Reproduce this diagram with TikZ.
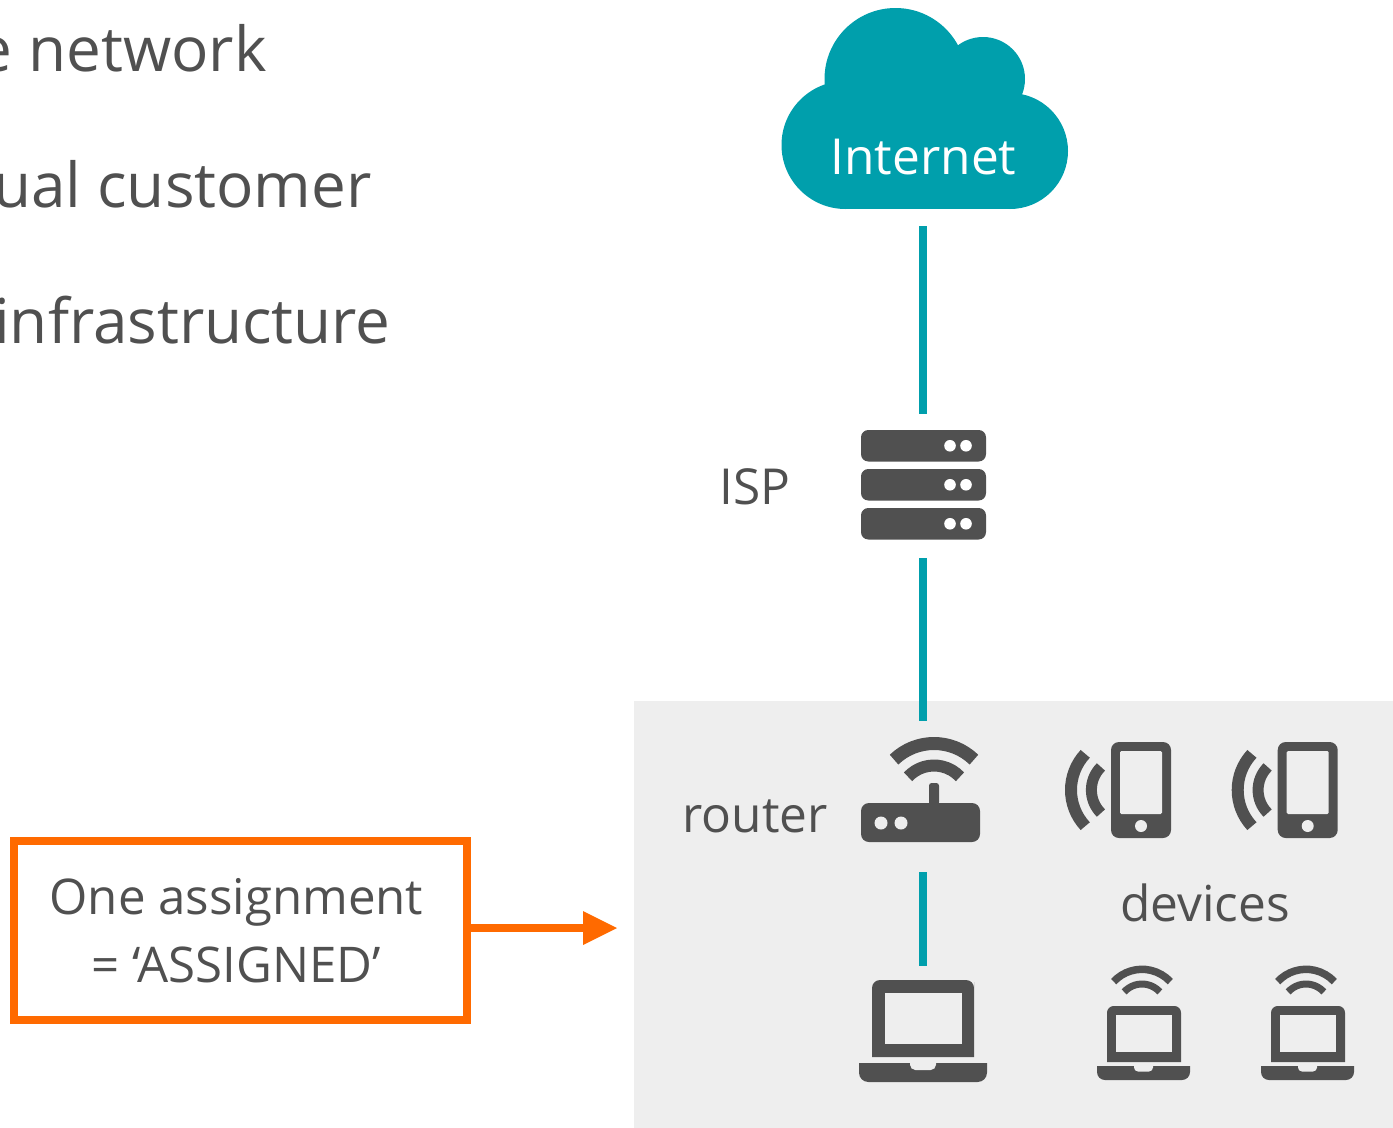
\documentclass[tikz,border=0pt]{standalone}
\usepackage{fontspec}
\setmainfont{Open Sans}[Ligatures=TeX]
\definecolor{teal1}{HTML}{009FAC}
\definecolor{ink}{HTML}{505050}
\definecolor{orange1}{HTML}{FF6A00}
\definecolor{panel}{HTML}{EEEEEE}
\newcommand{\wifiup}[8]{% cx cy r1 w1 r2 w2 ang1 ang2
  \draw[line width=#4*0.75pt,ink] (#1,#2) ++(270-#7:#3) arc[start angle=270-#7,end angle=270+#7,radius=#3];
  \draw[line width=#6*0.75pt,ink] (#1,#2) ++(270-#8:#5) arc[start angle=270-#8,end angle=270+#8,radius=#5];}
\newcommand{\phoneicon}[1]{%
  \begin{scope}[xshift=#1*0.75pt]
  \fill[ink,rounded corners=6pt] (1111,742) rectangle (1171,838);
  \fill[panel,rounded corners=1pt] (1120,751) rectangle (1162,814);
  \fill[panel] (1141,826) circle[radius=6];
  \draw[line width=9pt,ink] (1124,790) ++(137:53) arc[start angle=137,end angle=223,radius=53];
  \draw[line width=8.25pt,ink] (1124,790) ++(135:32.6) arc[start angle=135,end angle=225,radius=32.6];
  \end{scope}}
\newcommand{\smalllaptop}[1]{%
  \begin{scope}[xshift=#1*0.75pt]
  \fill[ink] (1107,1062) -- (1107,1030) [rounded corners=5pt] -- (1107,1006) -- (1181,1006) -- (1181,1030) [sharp corners] -- (1181,1062) -- cycle;
  \fill[panel] (1116,1015) rectangle (1172,1052);
  \fill[ink] (1097,1066) [rounded corners=6pt] -- (1097,1080) -- (1190,1080) [sharp corners] -- (1190,1066) -- cycle;
  \fill[panel] (1134,1066) [rounded corners=3pt] -- (1134,1071.5) -- (1153,1071.5) [sharp corners] -- (1153,1066) -- cycle;
  \wifiup{1142}{1008}{38.7}{7.5}{24}{7}{47}{48}
  \end{scope}}
\newcommand{\serverbar}[1]{%
  \fill[ink,rounded corners=5.5pt] (861,#1) rectangle (986,#1+31.5);
  \fill[white] (950,#1+15.75) circle[radius=5.8] (966,#1+15.75) circle[radius=5.8];}
\tikzset{
  link/.style={teal1,line width=6pt},
  lbl/.style={text=ink,inner sep=0pt,font=\fontsize{37.2}{45}\selectfont},
  slide/.style={text=ink,inner sep=0pt,font=\fontsize{46.5}{56}\selectfont},
}
\begin{document}
\begin{tikzpicture}[x=0.75pt,y=-0.75pt]
\useasboundingbox (0,0) rectangle (1393,1128);
\clip (0,0) rectangle (1393,1128);
\fill[panel] (634,701) rectangle (1393,1128);
% slide text, cut off by the picture edge
\node[slide,anchor=base east] (t1) at (267,71) {e network};
\node[slide,anchor=base east] (t2) at (372,207) {ual customer};
\node[slide,anchor=base east] (t3) at (391,343) {infrastructure};
% cloud
\fill[teal1] (895.5,79) circle[radius=71];
\fill[teal1] (983,79) circle[radius=42];
\fill[teal1] (845.5,145) circle[radius=64];
\fill[teal1] (1010,151) circle[radius=58];
\fill[teal1] (845,100) rectangle (1010,209);
\node[text=white,inner sep=0pt,font=\fontsize{37.2}{45}\selectfont,anchor=base] (internet) at (923.5,174.5) {Internet};
% server
\serverbar{430}\serverbar{469}\serverbar{508}
\node[lbl,anchor=base] (isp) at (755,504) {ISP};
% router
\fill[ink,rounded corners=6pt] (861,803) rectangle (980,842);
\fill[panel] (881,823) circle[radius=6.5] (901,823) circle[radius=6.5];
\fill[ink,rounded corners=2pt] (929,805) -- (929,783) -- (939,783) -- (939,805) -- cycle;
\wifiup{934}{801}{57.5}{13}{35.5}{12}{44}{47}
\node[lbl,anchor=base] (router) at (755,832) {router};
% phones
\phoneicon{0}\phoneicon{166.7}
\node[lbl,anchor=base] (devices) at (1205,921) {devices};
% big laptop
\fill[ink] (872,1057) -- (872,990) [rounded corners=6pt] -- (872,980) -- (974,980) -- (974,990) [sharp corners] -- (974,1057) -- cycle;
\fill[panel] (885,993) rectangle (962,1044);
\fill[ink] (859,1063) [rounded corners=7pt] -- (859,1082) -- (987,1082) [sharp corners] -- (987,1063) -- cycle;
\fill[panel] (910,1063) [rounded corners=4pt] -- (910,1070) -- (936,1070) [sharp corners] -- (936,1063) -- cycle;
\smalllaptop{0}\smalllaptop{164}
% connectors
\coordinate (a1) at (923,226); \coordinate (a2) at (923,414);
\coordinate (b1) at (923,558); \coordinate (b2) at (923,721);
\coordinate (c1) at (923,872); \coordinate (c2) at (923,966);
\draw[link] (a1) -- (a2);
\draw[link] (b1) -- (b2);
\draw[link] (c1) -- (c2);
% assignment box
\node[draw=orange1,line width=6pt,minimum width=453*0.75pt,minimum height=179*0.75pt,inner sep=0pt] (box) at (240.5,930.5) {};
\node[inner sep=0pt,align=center,text=ink,font=\fontsize{36.9}{51}\selectfont] (boxtext) at (236.5,930.5) {One assignment\\= ‘ASSIGNED’};
\coordinate (tip) at (617,928);
\draw[orange1,line width=6pt] (box.east |- tip) -- (585,928);
\fill[orange1] (tip) -- (583,911) -- (583,945) -- cycle;
\end{tikzpicture}
\end{document}
